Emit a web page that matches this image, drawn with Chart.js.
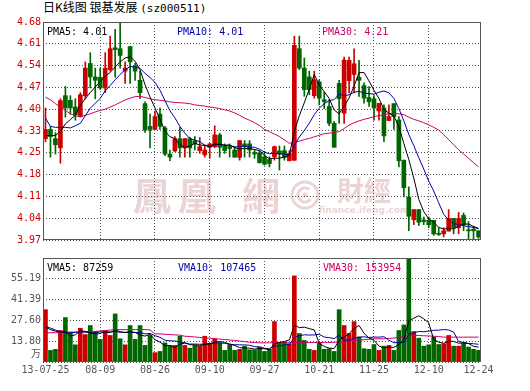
<!DOCTYPE html>
<html>
<head>
<meta charset="utf-8">
<script src="https://cdn.jsdelivr.net/npm/chart.js@4.4.0/dist/chart.umd.min.js"></script>
<style>
  body { margin: 0; background: #fff; }
  #wrap { position: relative; width: 530px; height: 391px; overflow: hidden; }
  #title { position: absolute; left: 43px; top: 0; font: 12px/14px "Noto Sans CJK SC"; color: #000; white-space: nowrap; }
  #title .code { font: 11px/14px "DejaVu Sans Mono"; }
  canvas { position: absolute; left: 0; }
  #priceChart { top: 0; }
  #volChart { top: 250px; }
</style>
</head>
<body>
<div id="wrap">
  <div id="title">日K线图&nbsp;银基发展&nbsp;<span class="code">(sz000511)</span></div>
  <canvas id="priceChart" width="530" height="250"></canvas>
  <canvas id="volChart" width="530" height="141"></canvas>
</div>
<script>
// daily candles
const opens = [4.30, 4.33, 4.30, 4.27, 4.44, 4.425, 4.403, 4.372, 4.44, 4.545,
  4.501, 4.50, 4.465, 4.525, 4.596, 4.593, 4.52, 4.60, 4.535, 4.49,
  4.414, 4.34, 4.33, 4.38, 4.335, 4.25, 4.26, 4.30, 4.27, 4.30,
  4.293, 4.261, 4.247, 4.272, 4.274, 4.312, 4.276, 4.274, 4.263, 4.239,
  4.283, 4.283, 4.255, 4.254, 4.241, 4.232, 4.241, 4.26, 4.261, 4.228,
  4.23, 4.593, 4.53, 4.501, 4.44, 4.485, 4.427, 4.405, 4.35, 4.48,
  4.383, 4.489, 4.509, 4.50, 4.473, 4.434, 4.43, 4.39, 4.40, 4.359,
  4.414, 4.361, 4.23, 4.11, 4.036, 4.069, 4.035, 4.034, 4.034, 3.992,
  3.99, 3.999, 4.04, 4.01, 4.05, 4.003, 4.005, 4.0];
const highs = [4.40, 4.34, 4.32, 4.43, 4.47, 4.44, 4.43, 4.45, 4.55, 4.58,
  4.53, 4.53, 4.58, 4.634, 4.656, 4.68, 4.55, 4.60, 4.545, 4.52,
  4.42, 4.38, 4.39, 4.40, 4.34, 4.263, 4.307, 4.337, 4.30, 4.305,
  4.307, 4.304, 4.28, 4.285, 4.342, 4.318, 4.283, 4.283, 4.274, 4.294,
  4.294, 4.294, 4.265, 4.26, 4.257, 4.241, 4.276, 4.276, 4.276, 4.261,
  4.634, 4.634, 4.563, 4.52, 4.52, 4.492, 4.452, 4.427, 4.356, 4.49,
  4.566, 4.566, 4.593, 4.555, 4.482, 4.47, 4.44, 4.415, 4.41, 4.41,
  4.414, 4.372, 4.23, 4.143, 4.069, 4.069, 4.045, 4.045, 4.034, 4.01,
  4.01, 4.069, 4.04, 4.06, 4.058, 4.03, 4.015, 4.0];
const lows = [4.29, 4.24, 4.25, 4.22, 4.37, 4.38, 4.36, 4.37, 4.43, 4.465,
  4.43, 4.46, 4.45, 4.52, 4.50, 4.53, 4.48, 4.48, 4.49, 4.43,
  4.32, 4.27, 4.33, 4.33, 4.245, 4.228, 4.258, 4.24, 4.24, 4.24,
  4.263, 4.252, 4.24, 4.236, 4.27, 4.24, 4.252, 4.24, 4.239, 4.23,
  4.24, 4.24, 4.236, 4.22, 4.214, 4.208, 4.23, 4.198, 4.23, 4.228,
  4.228, 4.525, 4.438, 4.443, 4.432, 4.41, 4.398, 4.342, 4.272, 4.35,
  4.35, 4.449, 4.449, 4.438, 4.416, 4.405, 4.36, 4.36, 4.29, 4.359,
  4.33, 4.208, 4.11, 4.0, 4.02, 4.017, 4.02, 4.01, 3.985, 3.985,
  3.98, 3.999, 3.99, 3.99, 4.0, 3.97, 3.97, 3.975];
const closes = [4.33, 4.307, 4.28, 4.424, 4.40, 4.40, 4.378, 4.443, 4.53, 4.501,
  4.49, 4.465, 4.53, 4.593, 4.59, 4.571, 4.53, 4.55, 4.52, 4.45,
  4.328, 4.33, 4.372, 4.34, 4.25, 4.24, 4.30, 4.27, 4.30, 4.27,
  4.283, 4.274, 4.263, 4.283, 4.312, 4.272, 4.261, 4.268, 4.24, 4.294,
  4.276, 4.263, 4.25, 4.222, 4.217, 4.219, 4.274, 4.25, 4.239, 4.252,
  4.604, 4.53, 4.46, 4.46, 4.492, 4.432, 4.421, 4.35, 4.272, 4.43,
  4.556, 4.555, 4.544, 4.49, 4.432, 4.42, 4.40, 4.415, 4.309, 4.372,
  4.372, 4.228, 4.14, 4.047, 4.069, 4.028, 4.03, 4.02, 3.99, 3.988,
  4.0, 4.04, 4.01, 4.04, 4.02, 4.0, 4.0, 3.98];
// volume in units of 10k (万)
const volumes = [34.7, 7.7, 8.4, 20.9, 29.5, 19.8, 11.4, 22.4, 18.2, 24.2,
  20.2, 15.0, 20.9, 17.6, 31.9, 15.4, 11.4, 24.2, 15.0, 24.2,
  11.0, 17.6, 6.2, 7.0, 12.7, 11.0, 11.0, 17.1, 11.0, 9.2,
  11.0, 10.5, 17.1, 12.1, 15.4, 12.7, 7.7, 11.4, 7.7, 8.4,
  10.5, 8.1, 8.1, 9.9, 7.0, 8.4, 26.8, 12.7, 13.2, 12.1,
  57.1, 18.9, 14.3, 8.4, 7.7, 12.7, 8.4, 8.8, 7.0, 34.7,
  24.2, 18.9, 26.8, 16.5, 8.8, 8.4, 11.6, 7.7, 10.5, 11.0,
  7.7, 20.9, 24.6, 72.0, 20.2, 15.8, 10.5, 11.4, 16.5, 11.6,
  12.1, 17.6, 10.5, 10.5, 12.7, 9.9, 8.4, 7.7];

// 30-day averages as drawn (they reach back before the first visible day)
const ma30 = [4.435, 4.427, 4.414, 4.403, 4.392, 4.381, 4.374, 4.372, 4.376, 4.381,
  4.387, 4.392, 4.396, 4.403, 4.41, 4.418, 4.426, 4.432, 4.437, 4.438,
  4.434, 4.43, 4.427, 4.425, 4.423, 4.42, 4.418, 4.417, 4.416, 4.414,
  4.41, 4.408, 4.406, 4.403, 4.401, 4.398, 4.394, 4.39, 4.384, 4.376,
  4.367, 4.36, 4.352, 4.343, 4.33, 4.323, 4.315, 4.307, 4.296, 4.285,
  4.287, 4.292, 4.297, 4.301, 4.306, 4.311, 4.316, 4.318, 4.32, 4.323,
  4.333, 4.344, 4.352, 4.358, 4.363, 4.367, 4.372, 4.375, 4.378, 4.381,
  4.383, 4.381, 4.378, 4.37, 4.363, 4.358, 4.352, 4.345, 4.337, 4.328,
  4.313, 4.297, 4.28, 4.264, 4.25, 4.236, 4.222, 4.208];
const vma30 = [19.3, 19.4, 19.5, 19.6, 19.7, 19.8, 19.9, 20.0, 20.1, 20.2,
  20.3, 20.6, 20.9, 21.2, 21.4, 21.5, 21.5, 21.5, 21.5, 21.5,
  21.5, 21.3, 18.7, 18.6, 18.4, 18.2, 18.0, 17.8, 17.1, 16.9,
  16.6, 16.3, 16.0, 15.8, 15.5, 15.2, 14.9, 14.6, 14.3, 13.9,
  13.5, 13.1, 12.9, 12.7, 12.7, 12.7, 12.8, 12.8, 12.8, 12.8,
  12.9, 12.9, 12.9, 12.9, 12.9, 12.9, 13.0, 13.0, 13.1, 13.2,
  13.6, 13.9, 14.3, 14.5, 14.8, 15.1, 15.4, 15.4, 15.4, 15.6,
  15.9, 16.5, 17.0, 17.6, 17.6, 17.6, 17.4, 17.3, 17.1, 16.9,
  16.5, 16.5, 16.5, 16.5, 16.5, 16.5, 16.5, 16.5];
// first points of the short averages
const ma5Lead = [4.31, 4.31, 4.31, 4.325];
const ma10Lead = [4.367, 4.34, 4.337, 4.337, 4.337, 4.335, 4.342, 4.35, 4.375];
const vma5Lead = [23.0, 21.5, 20.5, 20.0];
const vma10Lead = [23.5, 22.5, 21.2, 20.0, 19.3, 19.3, 19.6, 19.8, 19.8];

const tickIndex = [0, 11, 22, 33, 44, 55, 66, 77, 87];
const tickDates = ['13-07-25', '08-09', '08-26', '09-10', '09-27', '10-21', '11-25', '12-10', '12-24'];
const priceTickLabels = ['3.97', '4.04', '4.11', '4.18', '4.25', '4.33', '4.40', '4.47', '4.54', '4.61', '4.68'];
const volTickLabels = ['', '13.80', '27.60', '41.39', '55.19', ''];
const priceMaTexts = ['PMA5: 4.01', 'PMA10: 4.01', 'PMA30: 4.21'];
const volMaTexts = ['VMA5: 87259', 'VMA10: 107465', 'VMA30: 153954'];

const PRICE_MIN = 3.97, PRICE_MAX = 4.68;
const VOL_MAX = 68.99;
const RED = '#cc0000', GREEN = '#006600';
const MA_COLORS = ['#000000', '#0000aa', '#cc0066'];
const GRID = '#555555';

function movingAverage(values, n, lead) {
  return values.map((v, i) => {
    if (i < n - 1) return lead[i];
    let sum = 0;
    for (let k = i - n + 1; k <= i; k++) sum += values[k];
    return sum / n;
  });
}

const days = closes.map((c, i) => i);
const candleColors = closes.map((c, i) => c >= opens[i] ? RED : GREEN);
const ma5 = movingAverage(closes, 5, ma5Lead);
const ma10 = movingAverage(closes, 10, ma10Lead);
const vma5 = movingAverage(volumes, 5, vma5Lead);
const vma10 = movingAverage(volumes, 10, vma10Lead);
const gridIndex = tickIndex.slice(1, -1);

Chart.defaults.font.family = '"DejaVu Sans Mono"';
Chart.defaults.font.size = 10;

// legend texts + frame round the plot area
const panelText = {
  id: 'panelText',
  afterDatasetsDraw(chart, args, opts) {
    const { ctx, chartArea } = chart;
    ctx.save();
    ctx.font = '10px "DejaVu Sans Mono"';
    opts.items.forEach((t, k) => {
      ctx.fillStyle = MA_COLORS[k];
      ctx.fillText(t, chartArea.left + opts.offsets[k], chartArea.top + 13);
    });
    ctx.strokeStyle = GRID;
    ctx.lineWidth = 1;
    ctx.strokeRect(chartArea.left + 0.5, chartArea.top + 0.5,
      chartArea.right - chartArea.left - 1, chartArea.bottom - chartArea.top - 1);
    if (opts.unit) {
      const y = chart.scales.y.getPixelForValue(0) - 9;
      ctx.fillStyle = '#555';
      ctx.font = '10px "Noto Sans CJK SC"';
      ctx.textAlign = 'right';
      ctx.textBaseline = 'middle';
      ctx.fillText(opts.unit, chartArea.left - 2, y);
    }
    ctx.restore();
  }
};

// faint site mark behind the candles
const watermark = {
  id: 'watermark',
  beforeDraw(chart) {
    const ctx = chart.ctx;
    ctx.save();
    ctx.fillStyle = '#ecd4d4';
    ctx.textAlign = 'center';
    ctx.textBaseline = 'middle';
    ctx.font = 'bold 38px "Noto Sans CJK TC"';
    ctx.fillText('鳳', 152, 196);
    ctx.fillText('凰', 197, 196);
    ctx.fillText('網', 261, 196);
    ctx.strokeStyle = '#ecd4d4';
    ctx.lineWidth = 3;
    ctx.beginPath(); ctx.arc(305, 195, 13, 0, Math.PI * 2); ctx.stroke();
    ctx.beginPath(); ctx.arc(305, 195, 7, Math.PI * 0.2, Math.PI * 1.7); ctx.stroke();
    ctx.beginPath(); ctx.arc(305, 195, 2.5, 0, Math.PI * 2); ctx.fill();
    ctx.font = 'bold 27px "Noto Sans CJK TC"';
    ctx.fillText('財經', 364, 191);
    ctx.font = 'bold 9px "DejaVu Sans"';
    ctx.fillText('finance.ifeng.com', 364, 211);
    ctx.restore();
  }
};

function xScale(showLabels, height) {
  return {
    type: 'category',
    offset: true,
    grid: {
      offset: false,
      drawTicks: false,
      color: c => gridIndex.includes(c.index) ? GRID : 'rgba(0,0,0,0)'
    },
    border: { display: false, dash: [1, 2] },
    ticks: {
      display: showLabels,
      autoSkip: false,
      maxRotation: 0,
      minRotation: 0,
      padding: 2,
      color: '#555',
      callback: (v, i) => {
        const k = tickIndex.indexOf(i);
        return k >= 0 ? tickDates[k] : '';
      }
    },
    afterFit: s => { s.height = height; }
  };
}

function lineSet(data, color) {
  return { type: 'line', data, borderColor: color, borderWidth: 1, pointRadius: 0, tension: 0, order: 0 };
}

new Chart(document.getElementById('priceChart'), {
  type: 'bar',
  data: {
    labels: days,
    datasets: [
      lineSet(ma5, MA_COLORS[0]),
      lineSet(ma10, MA_COLORS[1]),
      lineSet(ma30, MA_COLORS[2]),
      { data: opens.map((o, i) => [o, closes[i]]), backgroundColor: candleColors,
        barThickness: 4, minBarLength: 1, grouped: false, order: 1 },
      { data: lows.map((l, i) => [l, highs[i]]), backgroundColor: candleColors,
        barThickness: 1, grouped: false, order: 2 }
    ]
  },
  options: {
    responsive: false,
    animation: false,
    devicePixelRatio: 1,
    events: [],
    layout: { padding: { top: 22, right: 49, bottom: 10, left: 0 } },
    plugins: {
      legend: { display: false },
      tooltip: { enabled: false },
      panelText: { items: priceMaTexts, offsets: [4, 134, 279] }
    },
    scales: {
      x: xScale(false, 0),
      y: {
        min: PRICE_MIN,
        max: PRICE_MAX,
        afterBuildTicks: s => {
          s.ticks = priceTickLabels.map((t, k) => ({ value: PRICE_MIN + k * (PRICE_MAX - PRICE_MIN) / 10 }));
        },
        afterFit: s => { s.width = 43; },
        grid: { color: GRID, drawTicks: false },
        border: { display: false, dash: [1, 2] },
        ticks: { color: '#cc0000', padding: 2, callback: (v, i) => priceTickLabels[i] }
      }
    }
  },
  plugins: [watermark, panelText]
});

new Chart(document.getElementById('volChart'), {
  type: 'bar',
  data: {
    labels: days,
    datasets: [
      lineSet(vma5, MA_COLORS[0]),
      lineSet(vma10, MA_COLORS[1]),
      lineSet(vma30, MA_COLORS[2]),
      { data: volumes, backgroundColor: candleColors, barThickness: 4, order: 1 }
    ]
  },
  options: {
    responsive: false,
    animation: false,
    devicePixelRatio: 1,
    events: [],
    layout: { padding: { top: 7, right: 49, bottom: 0, left: 0 } },
    plugins: {
      legend: { display: false },
      tooltip: { enabled: false },
      panelText: { items: volMaTexts, offsets: [4, 135, 280], unit: '万' }
    },
    scales: {
      x: xScale(true, 29),
      y: {
        min: 0,
        max: VOL_MAX,
        afterBuildTicks: s => {
          s.ticks = volTickLabels.map((t, k) => ({ value: k * VOL_MAX / 5 }));
        },
        afterFit: s => { s.width = 43; },
        grid: { color: GRID, drawTicks: false },
        border: { display: false, dash: [1, 2] },
        ticks: { color: '#555', padding: 2, callback: (v, i) => volTickLabels[i] }
      }
    }
  },
  plugins: [panelText]
});
</script>
</body>
</html>
